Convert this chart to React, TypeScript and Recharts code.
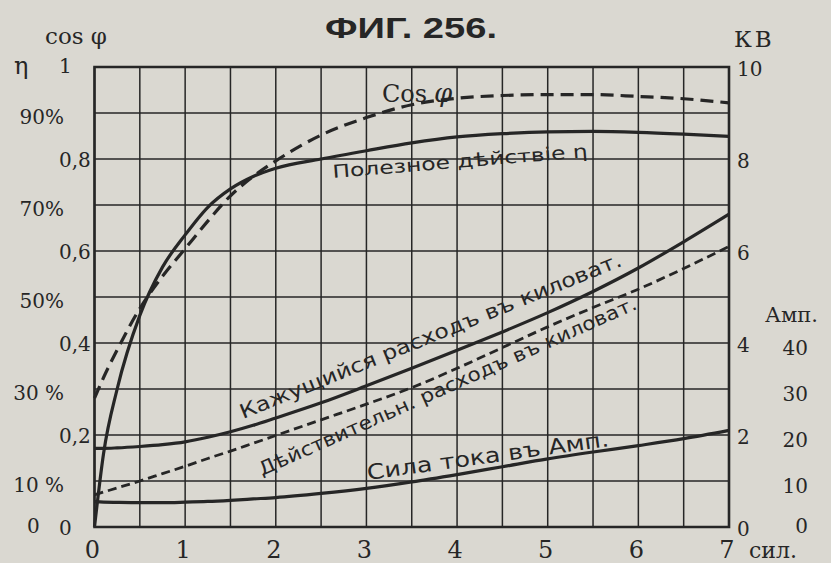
import React from 'react';
import { ComposedChart, Line, XAxis, YAxis, CartesianGrid, ReferenceArea } from 'recharts';

// load in horse power (сил.)
const load = [0, 0.1, 0.25, 0.5, 0.75, 1, 1.25, 1.5, 1.75, 2, 2.5, 3, 3.5, 4, 4.5, 5, 5.5, 6, 6.5, 7];
// полезное действие η, %
const efficiency = [0, 16, 30, 46, 56.5, 63.5, 69.5, 73.5, 76.2, 78, 80, 81.8, 83.5, 84.8, 85.5, 85.9, 86, 85.8, 85.4, 84.9];
// cos φ
const cosPhi = [0.28, 0.325, 0.385, 0.475, 0.545, 0.605, 0.665, 0.72, 0.762, 0.796, 0.852, 0.89, 0.918, 0.932, 0.938, 0.94, 0.94, 0.936, 0.931, 0.922];
// кажущийся расход, кВ
const apparentKw = [1.71, 1.71, 1.72, 1.75, 1.79, 1.85, 1.95, 2.07, 2.21, 2.37, 2.7, 3.07, 3.45, 3.84, 4.24, 4.66, 5.12, 5.63, 6.2, 6.8];
// действительный расход, кВ
const actualKw = [0.7, 0.76, 0.85, 1.0, 1.16, 1.32, 1.49, 1.65, 1.82, 1.99, 2.33, 2.67, 3.03, 3.45, 3.9, 4.35, 4.77, 5.17, 5.62, 6.1];
// сила тока, Амп
const currentAmp = [5.5, 5.4, 5.35, 5.3, 5.3, 5.4, 5.55, 5.8, 6.1, 6.4, 7.3, 8.4, 9.8, 11.4, 13.1, 14.8, 16.3, 17.7, 19.2, 21.0];

const loadTicks = [0, 0.5, 1, 1.5, 2, 2.5, 3, 3.5, 4, 4.5, 5, 5.5, 6, 6.5, 7];
const cosTicks = [0, 0.2, 0.4, 0.6, 0.8, 1];
const percentTicks = [0, 10, 30, 50, 70, 90];
const kwTicks = [0, 1, 2, 3, 4, 5, 6, 7, 8, 9, 10];
const ampTicks = [0, 10, 20, 30, 40];

const data = load.map((x, i) => ({
  load: x,
  eta: efficiency[i],
  cos: cosPhi[i],
  app: apparentKw[i],
  act: actualKw[i],
  amp: currentAmp[i],
}));

const ink = '#262626';
const paper = '#dad8d1';
const serif = '"DejaVu Serif", "Liberation Serif", serif';
const sans = '"DejaVu Sans", "Liberation Sans", sans-serif';

const CosTick = (props: any) => {
  const { x, y, payload } = props;
  const v = payload.value;
  const label = v === 0 ? '0' : v === 1 ? '1' : v.toFixed(1).replace('.', ',');
  return (
    <text x={x - 35.5} y={y + (v === 1 ? 6 : 8)} textAnchor="start" fontSize={20} fontFamily={serif} fill={ink}>
      {label}
    </text>
  );
};

const PercentTick = (props: any) => {
  const { x, y, payload } = props;
  const v = payload.value;
  if (v === 0) {
    return (
      <text x={x - 17.5} y={y + 6} textAnchor="start" fontSize={20} fontFamily={serif} fill={ink}>0</text>
    );
  }
  const label = v >= 50 ? `${v}%` : `${v} %`;
  return (
    <text x={x + 19.5} y={y + 11} textAnchor="end" fontSize={20} fontFamily={serif} fill={ink}>
      {label}
    </text>
  );
};

const KwTick = (props: any) => {
  const { x, y, payload } = props;
  if (payload.value % 2 !== 0) return <g />;
  return (
    <text x={x + 8} y={y + 9} textAnchor="start" fontSize={20} fontFamily={serif} fill={ink}>
      {payload.value}
    </text>
  );
};

const AmpTick = (props: any) => {
  const { x, y, payload } = props;
  return (
    <text x={x + 34} y={y + (payload.value === 0 ? 6 : 12)} textAnchor="end" fontSize={20} fontFamily={serif} fill={ink}>
      {payload.value}
    </text>
  );
};

const LoadTick = (props: any) => {
  const { x, y, payload } = props;
  if (!Number.isInteger(payload.value)) return <g />;
  return (
    <text x={x - 2} y={y + 31} textAnchor="middle" fontSize={24} fontFamily={serif} fill={ink}>
      {payload.value}
    </text>
  );
};

const App = () => {
  return (
    <div style={{ position: 'absolute', left: 0, top: 0, width: 831, height: 563, background: paper }}>
      <ComposedChart width={831} height={563} data={data} margin={{ top: 67, right: 0, bottom: 0, left: 0 }}>
        <XAxis
          dataKey="load"
          type="number"
          domain={[0, 7]}
          ticks={loadTicks}
          interval={0}
          height={36}
          axisLine={false}
          tickLine={false}
          tickSize={0}
          tickMargin={0}
          tick={<LoadTick />}
        />
        <YAxis yAxisId="cos" orientation="left" width={50} type="number" domain={[0, 1]} ticks={cosTicks} interval={0}
          axisLine={false} tickLine={false} tickSize={0} tickMargin={0} tick={<CosTick />} />
        <YAxis yAxisId="pct" orientation="left" width={44.5} type="number" domain={[0, 100]} ticks={percentTicks} interval={0}
          axisLine={false} tickLine={false} tickSize={0} tickMargin={0} tick={<PercentTick />} />
        <YAxis yAxisId="a_kw" orientation="right" width={45} type="number" domain={[0, 10]} ticks={kwTicks} interval={0}
          axisLine={false} tickLine={false} tickSize={0} tickMargin={0} tick={<KwTick />} />
        <YAxis yAxisId="b_amp" orientation="right" width={57} type="number" domain={[0, 100]} ticks={ampTicks} interval={0}
          axisLine={false} tickLine={false} tickSize={0} tickMargin={0} tick={<AmpTick />} />
        <CartesianGrid yAxisId="a_kw" stroke={ink} strokeWidth={1.5} />
        <ReferenceArea yAxisId="a_kw" x1={0} x2={7} y1={0} y2={10} fill="none" fillOpacity={0} stroke={ink} strokeWidth={2.6} />

        <Line yAxisId="pct" type="monotone" dataKey="eta" stroke={ink} strokeWidth={3.2} dot={false} isAnimationActive={false} />
        <Line yAxisId="cos" type="monotone" dataKey="cos" stroke={ink} strokeWidth={3.2} strokeDasharray="13 7" dot={false} isAnimationActive={false} />
        <Line yAxisId="a_kw" type="monotone" dataKey="app" stroke={ink} strokeWidth={3.2} dot={false} isAnimationActive={false} />
        <Line yAxisId="a_kw" type="monotone" dataKey="act" stroke={ink} strokeWidth={2.8} strokeDasharray="9 5" dot={false} isAnimationActive={false} />
        <Line yAxisId="b_amp" type="monotone" dataKey="amp" stroke={ink} strokeWidth={3.2} dot={false} isAnimationActive={false} />
      </ComposedChart>

      <svg width={831} height={563} style={{ position: 'absolute', left: 0, top: 0, pointerEvents: 'none' }}>
        <text x={411} y={38} textAnchor="middle" fontFamily='"Liberation Sans", Arial, sans-serif' fontWeight="bold" fontSize={30} textLength={172} lengthAdjust="spacingAndGlyphs" fill={ink}>
          ФИГ. 256.
        </text>
        <text x={45} y={44} fontFamily={serif} fontSize={23} fill={ink}>cos φ</text>
        <text x={14} y={74} fontFamily={serif} fontSize={24} fill={ink}>η</text>
        <text x={734} y={47} fontFamily={serif} fontSize={23} letterSpacing={3} fill={ink}>КВ</text>
        <text x={765} y={322} fontFamily={serif} fontSize={21} fill={ink}>Амп.</text>
        <text x={749} y={558} fontFamily={serif} fontSize={22} fill={ink}>сил.</text>

        <text x={382} y={102} fontFamily={serif} fontSize={24} fill={ink}>Cos</text>
        <text x={434} y={102} fontFamily={serif} fontStyle="italic" fontSize={26} fill={ink}>φ</text>

        <text x={333} y={178} transform="rotate(-4.7 333 178)" fontFamily={sans} fontSize={18} textLength={256} lengthAdjust="spacingAndGlyphs" fill={ink}>
          Полезное дѣйствiе η
        </text>
        <text x={243} y={419} transform="rotate(-22 243 419)" fontFamily={sans} fontSize={20} textLength={410} lengthAdjust="spacingAndGlyphs" fill={ink}>
          Кажущийся расходъ въ киловат.
        </text>
        <text x={262} y={476} transform="rotate(-24 262 476)" fontFamily={sans} fontSize={19} textLength={412} lengthAdjust="spacingAndGlyphs" fill={ink}>
          Дѣйствительн. расходъ въ киловат.
        </text>
        <text x={368} y={480} transform="rotate(-8 368 480)" fontFamily={sans} fontSize={21} textLength={244} lengthAdjust="spacingAndGlyphs" fill={ink}>
          Сила тока въ Амп.
        </text>
      </svg>
    </div>
  );
};

export default App;
